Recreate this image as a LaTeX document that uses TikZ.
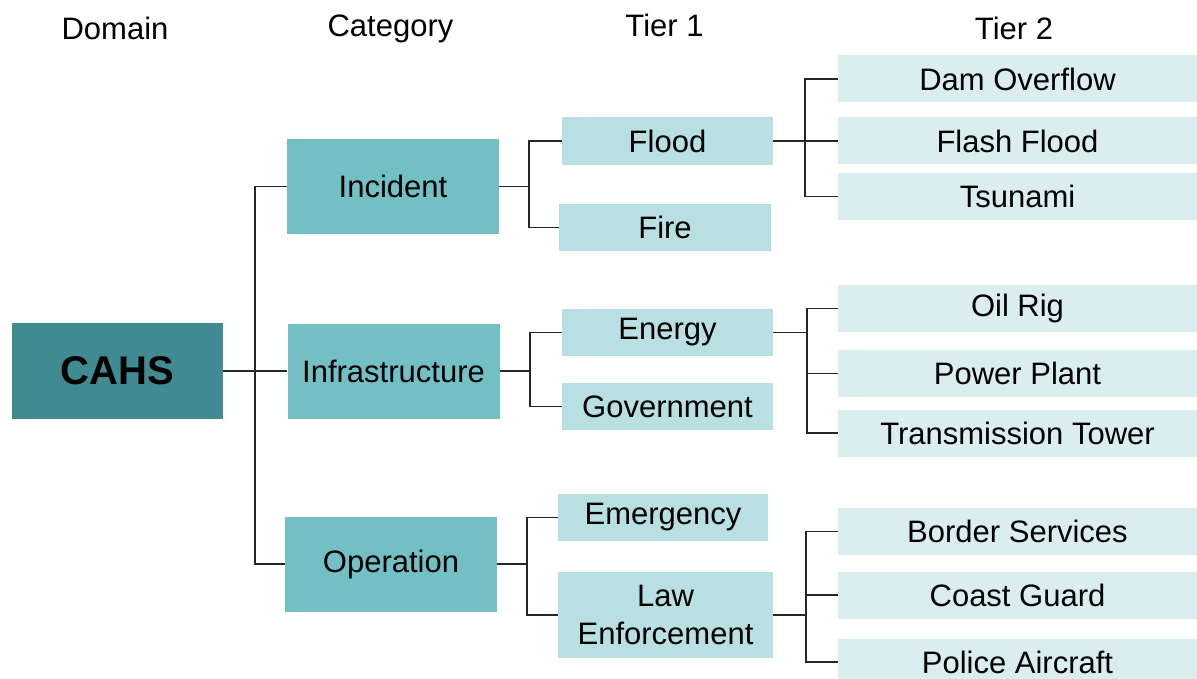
\documentclass[tikz,border=0pt]{standalone}
\usepackage{fontspec}
\setmainfont{Liberation Sans}
\definecolor{cDom}{HTML}{3F8B91}
\definecolor{cCat}{HTML}{72BFC4}
\definecolor{cT1}{HTML}{B8DFE2}
\definecolor{cT2}{HTML}{DAEEF0}
\begin{document}
\begin{tikzpicture}[x=1pt,y=-1pt,
  box/.style={rectangle, inner sep=0pt, align=center, font=\fontsize{31}{38}\selectfont},
  dom/.style={box, fill=cDom, font=\fontsize{40}{44}\selectfont\bfseries},
  cat/.style={box, fill=cCat, minimum width=212pt, minimum height=95pt},
  tone/.style={box, fill=cT1},
  ttwo/.style={box, fill=cT2, minimum width=359pt, minimum height=47pt},
  head/.style={anchor=base, inner sep=0pt, font=\fontsize{31}{36}\selectfont},
  link/.style={line width=1.9pt, black!85}]
\useasboundingbox (0,0) rectangle (1197,679);
\clip (0,0) rectangle (1197,679);
% headers
\node[head] (hd) at (115,40) {Domain};
\node[head] (hc) at (390.5,37) {Category};
\node[head] (h1) at (664.5,37) {Tier 1};
\node[head] (h2) at (1014,40) {Tier 2};
% domain
\node[dom, minimum width=211pt, minimum height=96pt] (cahs) at (117.5,371) {CAHS};
% categories
\node[cat] (inc) at (393,186.5) {Incident};
\node[cat] (inf) at (393.5,371) {Infrastructure};
\node[cat] (op) at (391,564) {Operation};
% tier 1
\node[tone, minimum width=211pt, minimum height=48pt] (flood) at (667.5,141) {Flood};
\node[tone, minimum width=212pt, minimum height=47pt] (fire) at (665,227.5) {Fire};
\node[tone, minimum width=211pt, minimum height=47pt] (energy) at (667.5,332.5) {Energy};
\node[tone, minimum width=211pt, minimum height=47pt] (gov) at (667.5,406.5) {Government};
\node[tone, minimum width=210pt, minimum height=47pt] (emer) at (663,517.5) {Emergency};
\node[tone, minimum width=215pt, minimum height=86pt] (law) at (665.5,615) {Law\\Enforcement};
% tier 2
\node[ttwo] (dam) at (1017.5,79) {Dam Overflow};
\node[ttwo] (flash) at (1017.5,141) {Flash Flood};
\node[ttwo] (tsu) at (1017.5,196.5) {Tsunami};
\node[ttwo] (oil) at (1017.5,308.5) {Oil Rig};
\node[ttwo] (pow) at (1017.5,373.5) {Power Plant};
\node[ttwo] (tra) at (1017.5,433) {Transmission Tower};
\node[ttwo] (bor) at (1017.5,531.5) {Border Services};
\node[ttwo] (coa) at (1017.5,595) {Coast Guard};
\node[ttwo] (pol) at (1017.5,662) {Police Aircraft};
% bus coordinates
\coordinate (b0) at (255,0);
\coordinate (b1) at (529,0);
\coordinate (b2) at (530,0);
\coordinate (b3) at (527,0);
\coordinate (b4) at (805,0);
\coordinate (b5) at (807,0);
\coordinate (b6) at (806,0);
% domain -> categories
\draw[link] (cahs.east) -- (inf.west);
\draw[link] (inc.west) -| (b0 |- op.west) -- (op.west);
% categories -> tier 1
\draw[link] (inc.east) -- (b1 |- inc.east);
\draw[link] (flood.west) -| (b1 |- fire.west) -- (fire.west);
\draw[link] (inf.east) -- (b2 |- inf.east);
\draw[link] (energy.west) -| (b2 |- gov.west) -- (gov.west);
\draw[link] (op.east) -- (b3 |- op.east);
\draw[link] (emer.west) -| (b3 |- law.west) -- (law.west);
% tier 1 -> tier 2
\draw[link] (flood.east) -- (flash.west);
\draw[link] (dam.west) -| (b4 |- tsu.west) -- (tsu.west);
\draw[link] (energy.east) -- (b5 |- energy.east);
\draw[link] (oil.west) -| (b5 |- tra.west) -- (tra.west);
\draw[link] (pow.west) -- (b5 |- pow.west);
\draw[link] (law.east) -- (b6 |- law.east);
\draw[link] (bor.west) -| (b6 |- pol.west) -- (pol.west);
\draw[link] (coa.west) -- (b6 |- coa.west);
\end{tikzpicture}
\end{document}
